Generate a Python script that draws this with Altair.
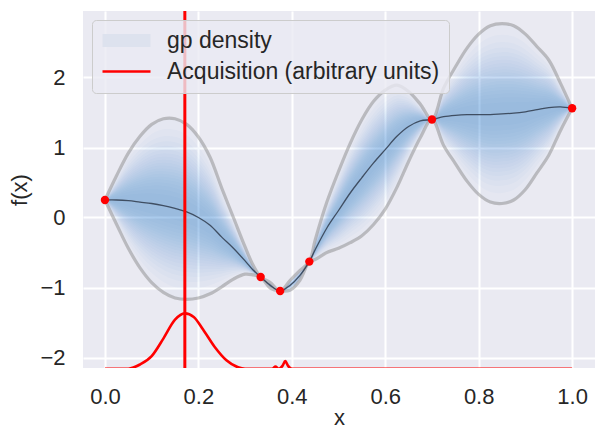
import altair as alt
import numpy as np
import pandas as pd

# ---- data ----
x_grid = [0.000, 0.025, 0.050, 0.075, 0.100, 0.125, 0.150, 0.175, 0.200, 0.225,
          0.250, 0.275, 0.300, 0.317, 0.3333, 0.354, 0.375, 0.396, 0.417, 0.4375,
          0.450, 0.475, 0.500, 0.525, 0.550, 0.575, 0.600, 0.625, 0.650, 0.675,
          0.700, 0.725, 0.750, 0.775, 0.800, 0.825, 0.850, 0.875, 0.900, 0.925,
          0.950, 0.975, 1.000]
gp_mean = [0.25, 0.25, 0.24, 0.22, 0.20, 0.17, 0.13, 0.08, 0.00, -0.11,
           -0.28, -0.44, -0.62, -0.75, -0.85, -0.97, -1.05, -0.97, -0.83, -0.63,
           -0.46, -0.15, 0.10, 0.35, 0.57, 0.78, 0.97, 1.16, 1.30, 1.38,
           1.40, 1.44, 1.46, 1.47, 1.47, 1.47, 1.48, 1.49, 1.51, 1.54,
           1.57, 1.58, 1.56]
gp_upper = [0.25, 0.60, 0.92, 1.16, 1.33, 1.41, 1.41, 1.33, 1.15, 0.86,
            0.42, 0.00, -0.42, -0.68, -0.85, -0.93, -1.05, -0.90, -0.76, -0.63,
            -0.32, 0.22, 0.66, 1.06, 1.40, 1.66, 1.82, 1.89, 1.80, 1.62,
            1.40, 1.85, 2.15, 2.42, 2.62, 2.74, 2.77, 2.74, 2.62, 2.44,
            2.25, 1.92, 1.56]
gp_lower = [0.25, -0.10, -0.44, -0.72, -0.93, -1.07, -1.15, -1.17, -1.15, -1.09,
            -0.99, -0.88, -0.81, -0.82, -0.85, -1.01, -1.05, -1.04, -0.90, -0.63,
            -0.60, -0.50, -0.44, -0.36, -0.26, -0.10, 0.12, 0.43, 0.80, 1.14,
            1.40, 1.03, 0.77, 0.52, 0.33, 0.22, 0.20, 0.25, 0.40, 0.64,
            0.89, 1.24, 1.56]

obs_x = [0.0, 0.3333, 0.375, 0.4375, 0.70, 1.0]
obs_y = [0.25, -0.85, -1.05, -0.63, 1.40, 1.56]

acq_x = [0.0, 0.05, 0.075, 0.10, 0.125, 0.15, 0.171, 0.19, 0.21, 0.235,
         0.26, 0.285, 0.30, 0.358, 0.365, 0.372, 0.38, 0.386, 0.392, 0.40, 1.0]
acq_y = [-2.16, -2.16, -2.10, -1.98, -1.73, -1.46, -1.37, -1.42, -1.60, -1.85,
         -2.04, -2.14, -2.16, -2.16, -2.13, -2.16, -2.12, -2.05, -2.12, -2.16, -2.16]

next_x = [0.171]

series_names = ["gp density", "Acquisition (arbitrary units)"]
x_ticks = [0.0, 0.2, 0.4, 0.6, 0.8, 1.0]
y_ticks = [-2, -1, 0, 1, 2]

# ---- tables ----
gp = pd.DataFrame({"x": x_grid, "mean": gp_mean, "upper": gp_upper, "lower": gp_lower})
gp["sd"] = (gp["upper"] - gp["lower"]) / 4.0

K = 20
levels = [2.0 * float(np.sqrt(np.log((K + 1) / k) / np.log(K + 1))) for k in range(1, K + 1)]
bands = pd.concat(
    [gp.assign(level=i, lo=gp["mean"] - z * gp["sd"], hi=gp["mean"] + z * gp["sd"])
     for i, z in enumerate(levels)],
    ignore_index=True,
)
obs = pd.DataFrame({"x": obs_x, "y": obs_y})
acq = pd.DataFrame({"x": acq_x, "y": acq_y, "series": series_names[1]})
nxt = pd.DataFrame({"x": next_x})

FONT = "Liberation Sans"
TXT = "#262626"
FS = 22

xs = alt.Scale(domain=[-0.047, 1.049], nice=False, zero=False)
ys = alt.Scale(domain=[-2.15, 2.95], nice=False, zero=False)

x_axis = alt.Axis(values=x_ticks, format=".1f", title="x", labelPadding=18, titlePadding=0)
y_axis = alt.Axis(values=y_ticks, format="d", title="f(x)", labelPadding=18, titlePadding=8)

density = alt.Chart(bands).mark_area(
    color="#3a72c8", opacity=0.024, interpolate="catmull-rom", clip=True
).encode(
    x=alt.X("x:Q", scale=xs, axis=x_axis),
    y=alt.Y("lo:Q", scale=ys, axis=y_axis),
    y2="hi:Q",
    detail="level:N",
)

bounds = alt.Chart(gp).transform_fold(["upper", "lower"], as_=["bound", "val"]).mark_line(
    color="#808080", opacity=0.45, strokeWidth=3.2, interpolate="catmull-rom", clip=True
).encode(
    x=alt.X("x:Q", scale=xs),
    y=alt.Y("val:Q", scale=ys),
    detail="bound:N",
)

mean_line = alt.Chart(gp).mark_line(
    color="#2f3b4c", opacity=0.85, strokeWidth=1.3, interpolate="catmull-rom", clip=True
).encode(
    x=alt.X("x:Q", scale=xs),
    y=alt.Y("mean:Q", scale=ys),
)

acq_line = alt.Chart(acq).mark_line(
    strokeWidth=2.6, interpolate="monotone", clip=True
).encode(
    x=alt.X("x:Q", scale=xs),
    y=alt.Y("y:Q", scale=ys),
    color=alt.Color(
        "series:N",
        scale=alt.Scale(domain=series_names, range=["#dde2ee", "#ff0000"]),
        legend=alt.Legend(
            title=None,
            orient="top-left",
            offset=9,
            fillColor="rgba(234,234,242,0.8)",
            strokeColor="#cccccc",
            cornerRadius=4,
            padding=9,
            symbolType={"expr": "datum.value == 'gp density' ? 'M-1,-0.65H3.8V0.65H-1Z' : 'M-1,0H3.8'"},
            symbolSize=400,
            symbolFillColor={"expr": "datum.value == 'gp density' ? '#dde2ee' : 'transparent'"},
            symbolStrokeWidth={"expr": "datum.value == 'gp density' ? 0 : 2.6"},
            symbolOpacity=1,
            rowPadding=7,
            labelFont=FONT,
            labelFontSize=23,
            labelColor=TXT,
            labelOffset=43,
            labelLimit=0,
        ),
    ),
)

vline = alt.Chart(nxt).mark_rule(color="#ff0000", strokeWidth=3, clip=True).encode(
    x=alt.X("x:Q", scale=xs)
)

points = alt.Chart(obs).mark_circle(color="#ff0000", size=70, opacity=1, clip=True).encode(
    x=alt.X("x:Q", scale=xs),
    y=alt.Y("y:Q", scale=ys),
)

chart = alt.layer(density, bounds, mean_line, acq_line, vline, points).properties(
    width=512,
    height=357,
    autosize=alt.AutoSizeParams(type="none"),
    padding={"left": 83, "top": 11, "right": 11, "bottom": 78},
    background="white",
).configure_view(
    fill="#EAEAF2", strokeWidth=0
).configure_axis(
    grid=True,
    gridColor="white",
    gridWidth=2,
    domain=False,
    ticks=False,
    tickSize=0,
    labelFont=FONT,
    labelFontSize=FS,
    labelColor=TXT,
    titleFont=FONT,
    titleFontSize=FS,
    titleColor=TXT,
    titleFontWeight="normal",
)

chart.save("out.html", embed_options={"renderer": "svg", "actions": False})
